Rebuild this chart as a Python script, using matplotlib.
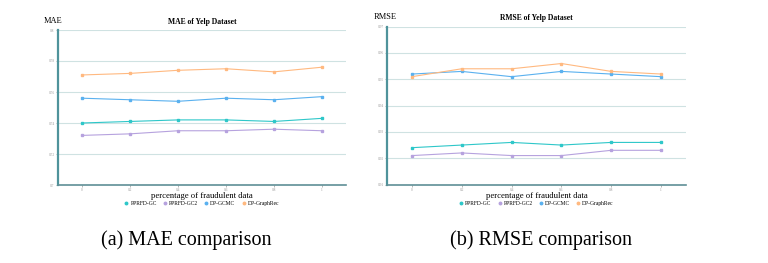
import numpy as np
import matplotlib.pyplot as plt

plt.rcParams['font.family'] = ['Liberation Serif', 'DejaVu Serif']

fraud_pct = [0, 0.2, 0.4, 0.6, 0.8, 1]
x_labels = ['0', '0.2', '0.4', '0.6', '0.8', '1']
series_names = ['PPRFD-GC', 'PPRFD-GC2', 'DP-GCMC', 'DP-GraphRec']
colors = ['#2ec7c9', '#b6a2de', '#5ab1ef', '#ffb980']

# MAE of Yelp
mae_gc = [0.740, 0.741, 0.742, 0.742, 0.741, 0.743]
mae_gc2 = [0.732, 0.733, 0.735, 0.735, 0.736, 0.735]
mae_gcmc = [0.756, 0.755, 0.754, 0.756, 0.755, 0.757]
mae_graphrec = [0.771, 0.772, 0.774, 0.775, 0.773, 0.776]
mae_ticks = [0.7, 0.72, 0.74, 0.76, 0.78, 0.8]

# RMSE of Yelp
rmse_gc = [0.924, 0.925, 0.926, 0.925, 0.926, 0.926]
rmse_gc2 = [0.921, 0.922, 0.921, 0.921, 0.923, 0.923]
rmse_gcmc = [0.952, 0.953, 0.951, 0.953, 0.952, 0.951]
rmse_graphrec = [0.951, 0.954, 0.954, 0.956, 0.953, 0.952]
rmse_ticks = [0.91, 0.92, 0.93, 0.94, 0.95, 0.96, 0.97]

fig = plt.figure(figsize=(7.68, 2.63), dpi=100)


def draw(rect, series, ticks, title, yname, cap, cap_x, title_y, yname_x):
    ax = fig.add_axes(rect)
    xs = np.arange(len(fraud_pct))
    for vals, name, c in zip(series, series_names, colors):
        ax.plot(xs, vals, color=c, lw=0.8, marker='s', ms=1.8, label=name)
    ax.set_xlim(-0.5, len(xs) - 0.5)
    ax.set_ylim(ticks[0], ticks[-1])
    ax.set_xticks(xs)
    ax.set_xticklabels(x_labels)
    ax.set_yticks(ticks)
    ax.set_yticklabels([('%g' % t) for t in ticks])
    ax.tick_params(labelsize=2.5, colors='#999999', length=1.5, width=0.5, pad=1)
    ax.grid(axis='y', color='#cfe2e2', lw=0.8)
    ax.set_axisbelow(True)
    for s in ['top', 'right']:
        ax.spines[s].set_visible(False)
    ax.spines['left'].set_color('#4f939b')
    ax.spines['left'].set_linewidth(1.6)
    ax.spines['bottom'].set_color('#5f8f96')
    ax.spines['bottom'].set_linewidth(1.2)
    cx = rect[0] + rect[2] / 2
    fig.text(cx, 1 - 196 / 263, 'percentage of fraudulent data', ha='center', va='center',
             fontsize=6.2)
    fig.text(cx, title_y, title, ha='center', va='center', fontsize=5.5, fontweight='bold')
    fig.text(yname_x, rect[1] + rect[3] + 0.02, yname, ha='center', va='bottom', fontsize=6)
    leg = ax.legend(loc='center', bbox_to_anchor=(cx, 1 - 203.5 / 263),
                    bbox_transform=fig.transFigure, ncol=4, frameon=False,
                    fontsize=4, handlelength=0.6, handletextpad=0.4, columnspacing=1.2)
    for h in leg.get_lines():
        h.set_linestyle('none')
        h.set_marker('o')
    fig.text(cap_x, 1 - 240 / 263, cap, ha='center', va='center', fontsize=14.5)
    return ax


draw([58 / 768, 1 - 185 / 263, 288 / 768, 155 / 263],
     [mae_gc, mae_gc2, mae_gcmc, mae_graphrec], mae_ticks,
     'MAE of Yelp Dataset', 'MAE', '(a) MAE comparison', 186 / 768, 1 - 22 / 263, 53 / 768)
draw([387 / 768, 1 - 184.5 / 263, 299 / 768, 157.8 / 263],
     [rmse_gc, rmse_gc2, rmse_gcmc, rmse_graphrec], rmse_ticks,
     'RMSE of Yelp Dataset', 'RMSE', '(b) RMSE comparison', 541 / 768, 1 - 18 / 263, 385 / 768)

fig.savefig('out.png', dpi=100)
